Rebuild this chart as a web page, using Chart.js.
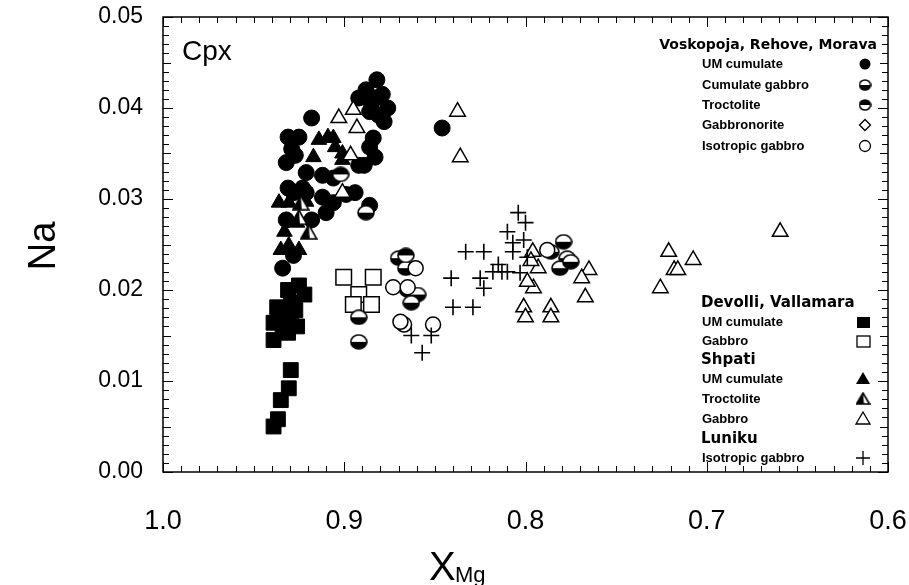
<!DOCTYPE html>
<html>
<head>
<meta charset="utf-8">
<script src="https://cdn.jsdelivr.net/npm/chart.js@4.4.0/dist/chart.umd.min.js"></script>
<style>
html, body { margin: 0; padding: 0; background: #fff; }
#wrap { width: 909px; height: 585px; position: relative; }
</style>
</head>
<body>
<div id="wrap"><canvas id="cpxChart"></canvas></div>
<script>
// x tick labels / y tick labels
const xTicks = [1.0, 0.9, 0.8, 0.7, 0.6];
const yTicks = [0.00, 0.01, 0.02, 0.03, 0.04, 0.05];

// Voskopoja, Rehove, Morava  [XMg, Na]
const vrmUmCumulate = [
    [0.882, 0.0431], [0.888, 0.0420], [0.892, 0.0411], [0.883, 0.0411], [0.876, 0.0400],
    [0.881, 0.0392], [0.886, 0.0396], [0.879, 0.0415], [0.885, 0.0405], [0.878, 0.0385],
    [0.918, 0.0389], [0.846, 0.0378], [0.931, 0.0368], [0.925, 0.0368], [0.884, 0.0367],
    [0.886, 0.0357], [0.929, 0.0355], [0.883, 0.0346], [0.927, 0.0348], [0.932, 0.0340],
    [0.892, 0.0337], [0.889, 0.0337], [0.921, 0.0329], [0.912, 0.0326], [0.906, 0.0323],
    [0.931, 0.0312], [0.923, 0.0312], [0.928, 0.0307], [0.921, 0.0307], [0.912, 0.0302],
    [0.899, 0.0305], [0.894, 0.0307], [0.906, 0.0296], [0.910, 0.0285], [0.886, 0.0293],
    [0.932, 0.0277], [0.918, 0.0277], [0.934, 0.0224], [0.928, 0.0238]
];
const vrmCumulateGabbro = [
    [0.888, 0.0285], [0.892, 0.0170], [0.892, 0.0143], [0.870, 0.0235], [0.866, 0.0224],
    [0.865, 0.0200], [0.8595, 0.0195], [0.863, 0.0186], [0.779, 0.0253], [0.786, 0.0242],
    [0.777, 0.0235], [0.781, 0.0224], [0.775, 0.0231]
];
const vrmTroctolite = [[0.902, 0.0327], [0.866, 0.0238]];
const vrmGabbronorite = [];
const vrmIsotropicGabbro = [
    [0.8606, 0.0224], [0.873, 0.0203], [0.867, 0.0162], [0.851, 0.0162], [0.865, 0.0203],
    [0.788, 0.0244], [0.869, 0.0165]
];

// Devolli, Vallamara
const dvUmCumulate = [
    [0.931, 0.0200], [0.922, 0.0195], [0.937, 0.0181], [0.9295, 0.0186], [0.939, 0.0164],
    [0.9295, 0.0167], [0.926, 0.0160], [0.939, 0.0145], [0.931, 0.0153], [0.933, 0.0175],
    [0.936, 0.0170], [0.927, 0.0178], [0.934, 0.0155], [0.925, 0.0205], [0.9295, 0.0112],
    [0.9306, 0.0092], [0.935, 0.0079], [0.9366, 0.0058], [0.939, 0.0050]
];
const dvGabbro = [[0.9003, 0.0214], [0.884, 0.0214], [0.892, 0.0195], [0.895, 0.0184], [0.885, 0.0184]];

// Shpati
const shUmCumulate = [
    [0.914, 0.0365], [0.909, 0.0368], [0.906, 0.0367], [0.905, 0.0357], [0.901, 0.0350],
    [0.917, 0.0346], [0.901, 0.0343], [0.936, 0.0296], [0.9306, 0.0296], [0.921, 0.0297],
    [0.926, 0.0274], [0.933, 0.0264], [0.935, 0.0244], [0.925, 0.0244], [0.9306, 0.0249]
];
const shTroctolite = [[0.924, 0.0296], [0.925, 0.0280], [0.9196, 0.0264]];
const shGabbro = [
    [0.903, 0.0389], [0.895, 0.0398], [0.893, 0.0378], [0.8965, 0.0348], [0.901, 0.0307],
    [0.8375, 0.0396], [0.836, 0.0346], [0.796, 0.0242], [0.793, 0.0224], [0.7956, 0.0202],
    [0.799, 0.0209], [0.801, 0.0181], [0.800, 0.0170], [0.786, 0.0181], [0.786, 0.0170],
    [0.765, 0.0222], [0.769, 0.0213], [0.767, 0.0192], [0.6595, 0.0264], [0.721, 0.0242],
    [0.7075, 0.0233], [0.718, 0.0222], [0.716, 0.0222], [0.7256, 0.0202], [0.797, 0.0232]
];

// Luniku
const luIsotropicGabbro = [
    [0.833, 0.0242], [0.823, 0.0242], [0.807, 0.0242], [0.841, 0.0213], [0.825, 0.0213],
    [0.818, 0.0220], [0.813, 0.0220], [0.810, 0.0220], [0.823, 0.0202], [0.840, 0.0181],
    [0.829, 0.0181], [0.863, 0.0150], [0.852, 0.0150], [0.857, 0.0131], [0.804, 0.0285],
    [0.800, 0.0274], [0.810, 0.0264], [0.807, 0.0252], [0.801, 0.0255], [0.803, 0.0219],
    [0.799, 0.0236], [0.815, 0.0228]
];

const toXY = arr => arr.map(p => ({ x: p[0], y: p[1] }));

// half filled circle marker (which = 'top' or 'bottom' black)
function halfCircle(w, h, which) {
    const c = document.createElement('canvas');
    c.width = w; c.height = h;
    const g = c.getContext('2d');
    const rx = w / 2 - 1, ry = h / 2 - 1;
    g.beginPath();
    g.ellipse(w / 2, h / 2, rx, ry, 0, 0, Math.PI * 2);
    g.fillStyle = '#fff';
    g.fill();
    g.save();
    g.clip();
    g.fillStyle = '#000';
    if (which === 'top') g.fillRect(0, 0, w, h / 2);
    else g.fillRect(0, h / 2, w, h / 2);
    g.restore();
    g.lineWidth = 1.6;
    g.strokeStyle = '#000';
    g.beginPath();
    g.ellipse(w / 2, h / 2, rx, ry, 0, 0, Math.PI * 2);
    g.stroke();
    return c;
}

// triangle with left half black
function halfTriangle(w, h) {
    const c = document.createElement('canvas');
    c.width = w; c.height = h;
    const g = c.getContext('2d');
    g.beginPath();
    g.moveTo(w / 2, 1);
    g.lineTo(w - 1, h - 1);
    g.lineTo(1, h - 1);
    g.closePath();
    g.fillStyle = '#fff';
    g.fill();
    g.beginPath();
    g.moveTo(w / 2, 1);
    g.lineTo(w / 2 + 1, h - 1);
    g.lineTo(1, h - 1);
    g.closePath();
    g.fillStyle = '#000';
    g.fill();
    g.beginPath();
    g.moveTo(w / 2, 1);
    g.lineTo(w - 1, h - 1);
    g.lineTo(1, h - 1);
    g.closePath();
    g.lineWidth = 1.6;
    g.strokeStyle = '#000';
    g.stroke();
    return c;
}

const cumGabbroImg = halfCircle(18, 16, 'bottom');
const troctImg = halfCircle(18, 16, 'top');
const shTroctImg = halfTriangle(18, 16);

const datasets = [
    { label: 'Luniku Isotropic gabbro', data: toXY(luIsotropicGabbro), pointStyle: 'cross',
      pointRadius: 8, borderColor: '#000', borderWidth: 1.6 },
    { label: 'Shpati Gabbro', data: toXY(shGabbro), pointStyle: 'triangle',
      pointRadius: 9, borderColor: '#000', backgroundColor: '#fff', borderWidth: 1.5 },
    { label: 'Shpati Troctolite', data: toXY(shTroctolite), pointStyle: shTroctImg, pointRadius: 9 },
    { label: 'Shpati UM cumulate', data: toXY(shUmCumulate), pointStyle: 'triangle',
      pointRadius: 9, borderColor: '#000', backgroundColor: '#000', borderWidth: 1 },
    { label: 'Isotropic gabbro', data: toXY(vrmIsotropicGabbro), pointStyle: 'circle',
      pointRadius: 7.5, borderColor: '#000', backgroundColor: '#fff', borderWidth: 1.5 },
    { label: 'Gabbronorite', data: toXY(vrmGabbronorite), pointStyle: 'rectRot',
      pointRadius: 7, borderColor: '#000', backgroundColor: '#fff', borderWidth: 1.5 },
    { label: 'Troctolite', data: toXY(vrmTroctolite), pointStyle: troctImg, pointRadius: 8 },
    { label: 'Cumulate gabbro', data: toXY(vrmCumulateGabbro), pointStyle: cumGabbroImg, pointRadius: 8 },
    { label: 'Devolli Gabbro', data: toXY(dvGabbro), pointStyle: 'rect',
      pointRadius: 11, borderColor: '#000', backgroundColor: '#fff', borderWidth: 1.5 },
    { label: 'Devolli UM cumulate', data: toXY(dvUmCumulate), pointStyle: 'rect',
      pointRadius: 10.5, borderColor: '#000', backgroundColor: '#000', borderWidth: 1 },
    { label: 'UM cumulate', data: toXY(vrmUmCumulate), pointStyle: 'circle',
      pointRadius: 8, borderColor: '#000', backgroundColor: '#000', borderWidth: 1 }
];

const FONT = '"Liberation Sans", Arial, sans-serif';
const NARROW = '"Liberation Sans Narrow", "Arial Narrow", "Liberation Sans", sans-serif';
const HEAD = '"DejaVu Sans", "Liberation Sans", sans-serif';

// frame, inward ticks, titles, Cpx label
const framePlugin = {
    id: 'frame',
    afterDraw(chart) {
        const { ctx, chartArea: a, scales } = chart;
        const xs = scales.x, ys = scales.y;
        ctx.save();
        ctx.strokeStyle = '#000';
        ctx.lineWidth = 1.5;
        ctx.strokeRect(a.left, a.top, a.right - a.left, a.bottom - a.top);
        ctx.lineWidth = 1;
        ctx.beginPath();
        for (let i = 0; i <= 40; i++) {
            const v = 0.6 + i * 0.01;
            const px = Math.round(xs.getPixelForValue(v)) + 0.5;
            const len = (i % 10 === 0) ? 10 : 6;
            ctx.moveTo(px, a.bottom); ctx.lineTo(px, a.bottom - len);
            ctx.moveTo(px, a.top); ctx.lineTo(px, a.top + len);
        }
        for (let i = 0; i <= 50; i++) {
            const v = i * 0.001;
            const py = Math.round(ys.getPixelForValue(v)) + 0.5;
            const len = (i % 10 === 0) ? 10 : (i % 5 === 0 ? 8 : 6);
            ctx.moveTo(a.left, py); ctx.lineTo(a.left + len, py);
            ctx.moveTo(a.right, py); ctx.lineTo(a.right - len, py);
        }
        ctx.stroke();

        ctx.fillStyle = '#000';
        ctx.font = '28px ' + FONT;
        ctx.textAlign = 'left';
        ctx.textBaseline = 'alphabetic';
        ctx.fillText('Cpx', 182, 60);

        // y title
        ctx.save();
        ctx.translate(55, 246);
        ctx.rotate(-Math.PI / 2);
        ctx.font = '38px ' + NARROW;
        ctx.textAlign = 'center';
        ctx.fillText('Na', 0, 0);
        ctx.restore();

        // x title with subscript
        ctx.font = '40px ' + NARROW;
        ctx.textAlign = 'left';
        ctx.fillText('X', 429, 580);
        ctx.font = '22px ' + NARROW;
        ctx.fillText('Mg', 455, 582);
        ctx.restore();
    }
};

function legendMarker(ctx, kind, x, y) {
    ctx.save();
    ctx.strokeStyle = '#000';
    ctx.fillStyle = '#000';
    ctx.lineWidth = 1.3;
    if (kind === 'dot') {
        ctx.beginPath(); ctx.arc(x, y, 5.5, 0, Math.PI * 2); ctx.fill();
    } else if (kind === 'halfBottom' || kind === 'halfTop') {
        ctx.drawImage(halfCircle(13, 12, kind === 'halfTop' ? 'top' : 'bottom'), x - 6.5, y - 6);
    } else if (kind === 'diamond') {
        ctx.beginPath();
        ctx.moveTo(x, y - 5.5); ctx.lineTo(x + 5.5, y); ctx.lineTo(x, y + 5.5); ctx.lineTo(x - 5.5, y);
        ctx.closePath(); ctx.stroke();
    } else if (kind === 'ring') {
        ctx.beginPath(); ctx.arc(x, y, 5.5, 0, Math.PI * 2); ctx.stroke();
    } else if (kind === 'square') {
        ctx.fillRect(x - 6, y - 5, 13, 11);
    } else if (kind === 'openSquare') {
        ctx.strokeRect(x - 6, y - 5, 13, 11);
    } else if (kind === 'tri') {
        ctx.beginPath(); ctx.moveTo(x, y - 7); ctx.lineTo(x + 7, y + 5); ctx.lineTo(x - 7, y + 5);
        ctx.closePath(); ctx.fill();
    } else if (kind === 'halfTri') {
        ctx.drawImage(halfTriangle(15, 13), x - 7.5, y - 7);
    } else if (kind === 'openTri') {
        ctx.beginPath(); ctx.moveTo(x, y - 7); ctx.lineTo(x + 7, y + 5); ctx.lineTo(x - 7, y + 5);
        ctx.closePath(); ctx.stroke();
    } else if (kind === 'cross') {
        ctx.beginPath();
        ctx.moveTo(x - 7, y); ctx.lineTo(x + 7, y);
        ctx.moveTo(x, y - 7); ctx.lineTo(x, y + 7);
        ctx.stroke();
    }
    ctx.restore();
}

const legendPlugin = {
    id: 'groupLegend',
    afterDraw(chart) {
        const ctx = chart.ctx;
        ctx.save();
        ctx.fillStyle = '#000';
        ctx.textBaseline = 'middle';
        ctx.font = 'bold 14px ' + HEAD;
        ctx.textAlign = 'right';
        ctx.fillText('Voskopoja, Rehove, Morava', 877, 45);
        ctx.textAlign = 'left';
        const top = [
            ['UM cumulate', 'dot', 64], ['Cumulate gabbro', 'halfBottom', 85],
            ['Troctolite', 'halfTop', 105], ['Gabbronorite', 'diamond', 125],
            ['Isotropic gabbro', 'ring', 146]
        ];
        ctx.font = 'bold 13px ' + FONT;
        top.forEach(r => { ctx.fillText(r[0], 702, r[2]); legendMarker(ctx, r[1], 865, r[2]); });

        const rows = [
            ['Devolli, Vallamara', null, 303], ['UM cumulate', 'square', 322], ['Gabbro', 'openSquare', 341],
            ['Shpati', null, 360], ['UM cumulate', 'tri', 379], ['Troctolite', 'halfTri', 399],
            ['Gabbro', 'openTri', 419], ['Luniku', null, 439], ['Isotropic gabbro', 'cross', 458]
        ];
        rows.forEach(r => {
            if (r[1] === null) {
                ctx.font = 'bold 15px ' + HEAD;
                ctx.fillText(r[0], 701, r[2]);
            } else {
                ctx.font = 'bold 13px ' + FONT;
                ctx.fillText(r[0], 702, r[2]);
                legendMarker(ctx, r[1], 863, r[2]);
            }
        });
        ctx.restore();
    }
};

new Chart(document.getElementById('cpxChart').getContext('2d'), {
    type: 'scatter',
    data: { datasets: datasets },
    options: {
        responsive: true,
        maintainAspectRatio: false,
        animation: false,
        events: [],
        layout: { padding: { top: 17, right: 21, left: 0, bottom: 0 } },
        plugins: { legend: { display: false }, tooltip: { enabled: false } },
        scales: {
            x: {
                type: 'linear',
                reverse: true,
                min: 0.6,
                max: 1.0,
                afterFit: s => { s.height = 113; s.paddingLeft = 0; s.paddingRight = 0; },
                afterBuildTicks: s => { s.ticks = xTicks.map(v => ({ value: v })); },
                grid: { display: false, drawTicks: false },
                border: { display: false },
                ticks: {
                    color: '#000',
                    padding: 33,
                    maxRotation: 0,
                    font: { family: NARROW, size: 27 },
                    callback: v => Number(v).toFixed(1)
                }
            },
            y: {
                type: 'linear',
                min: 0,
                max: 0.05,
                afterFit: s => { s.width = 163; s.paddingTop = 0; s.paddingBottom = 0; },
                afterBuildTicks: s => { s.ticks = yTicks.map(v => ({ value: v })); },
                grid: { display: false, drawTicks: false },
                border: { display: false },
                ticks: {
                    color: '#000',
                    padding: 20,
                    font: { family: FONT, size: 23 },
                    callback: v => Number(v).toFixed(2)
                }
            }
        }
    },
    plugins: [framePlugin, legendPlugin]
});
</script>
</body>
</html>
